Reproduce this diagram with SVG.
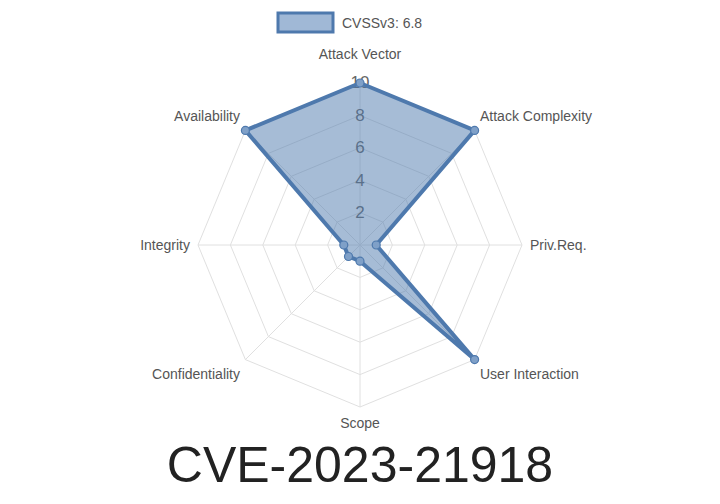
<svg xmlns="http://www.w3.org/2000/svg" width="720" height="504" viewBox="0 0 720 504">
<style>
.g{fill:none;stroke:#e0e0e0;stroke-width:1}
.l{font-family:"Liberation Sans",Arial,sans-serif;font-size:14px;fill:#555}
.t{font-family:"Liberation Sans",Arial,sans-serif;font-size:17px;fill:#666;text-anchor:middle}
.p{fill:#a0b8d6;stroke:#4e79ad;stroke-width:1.2}
</style>
<rect width="720" height="504" fill="#fff"/>
<g id="grid">
<polygon class="g" points="360,83 474.6,130.4 522,245 474.6,359.6 360,407 245.4,359.6 198,245 245.4,130.4"/>
<polygon class="g" points="360,115.4 451.6,153.4 489.6,245 451.6,336.6 360,374.6 268.4,336.6 230.4,245 268.4,153.4"/>
<polygon class="g" points="360,147.8 428.7,176.3 457.2,245 428.7,313.7 360,342.2 291.3,313.7 262.8,245 291.3,176.3"/>
<polygon class="g" points="360,180.2 405.8,199.2 424.8,245 405.8,290.8 360,309.8 314.2,290.8 295.2,245 314.2,199.2"/>
<polygon class="g" points="360,212.6 382.9,222.1 392.4,245 382.9,267.9 360,277.4 337.1,267.9 327.6,245 337.1,222.1"/>
<path class="g" d="M360,245L360,83M360,245L474.6,130.4M360,245L522,245M360,245L474.6,359.6M360,245L360,407M360,245L245.4,359.6M360,245L198,245M360,245L245.4,130.4"/>
</g>
<g id="ticks">
<text class="t" x="360" y="218">2</text>
<text class="t" x="360" y="186">4</text>
<text class="t" x="360" y="153">6</text>
<text class="t" x="360" y="121">8</text>
<text class="t" x="360" y="88">10</text>
</g>
<g id="data">
<polygon points="360,83 474.6,130.4 376.2,245 474.6,359.6 360,261.2 348.5,256.5 343.8,245 245.4,130.4" fill="#4e79ad" fill-opacity="0.5" stroke="#4e79ad" stroke-width="4" stroke-linejoin="round"/>
<g fill="#7fa0c8" stroke="#4e79ad" stroke-width="1.2">
<circle cx="360" cy="83" r="4"/><circle cx="474.6" cy="130.4" r="4"/><circle cx="376.2" cy="245" r="4"/><circle cx="474.6" cy="359.6" r="4"/><circle cx="360" cy="261.2" r="4"/><circle cx="348.5" cy="256.5" r="4"/><circle cx="343.8" cy="245" r="4"/><circle cx="245.4" cy="130.4" r="4"/>
</g>
</g>
<g id="labels">
<text class="l" x="360" y="59" text-anchor="middle">Attack Vector</text>
<text class="l" x="480" y="121">Attack Complexity</text>
<text class="l" x="530" y="250">Priv.Req.</text>
<text class="l" x="480" y="379">User Interaction</text>
<text class="l" x="360" y="428" text-anchor="middle">Scope</text>
<text class="l" x="240" y="379" text-anchor="end">Confidentiality</text>
<text class="l" x="190" y="250" text-anchor="end">Integrity</text>
<text class="l" x="240" y="121" text-anchor="end">Availability</text>
</g>
<g id="legend">
<rect x="278" y="13" width="55" height="19" fill="#a0b8d6" stroke="#4e79ad" stroke-width="3"/>
<text class="l" x="342" y="28" font-size="16">CVSSv3: 6.8</text>
</g>
<text x="360" y="482" text-anchor="middle" font-family="Liberation Sans,Arial,sans-serif" font-size="50" fill="#222">CVE-2023-21918</text>
</svg>
